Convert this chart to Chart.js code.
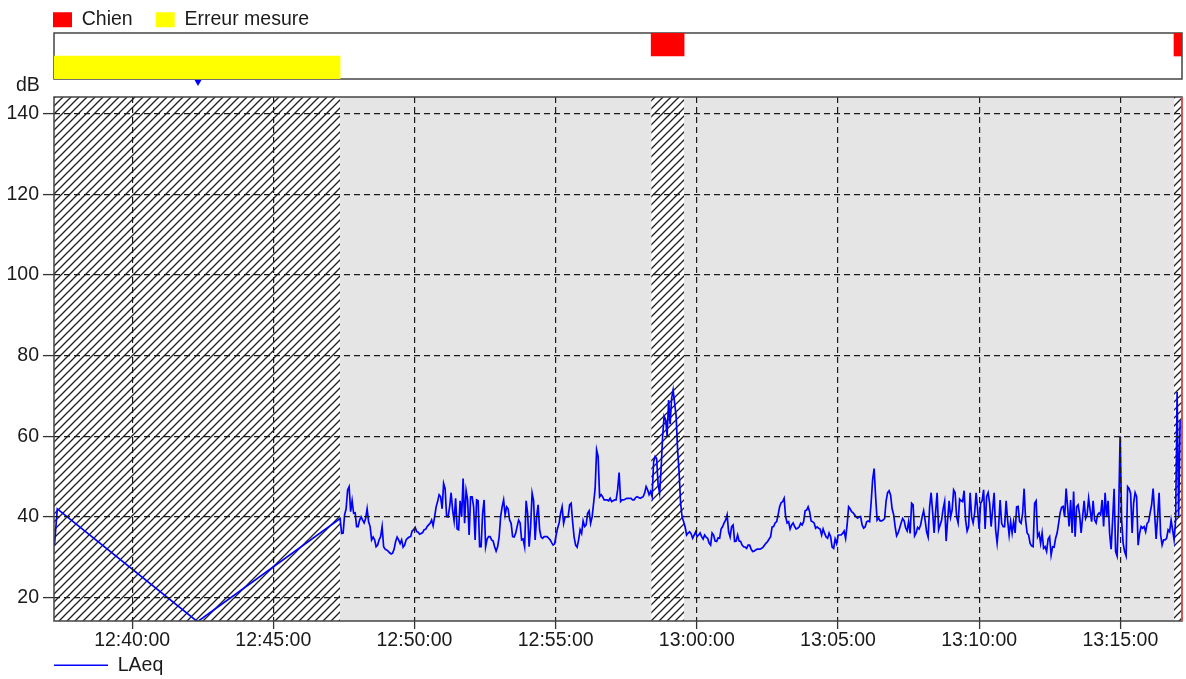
<!DOCTYPE html>
<html>
<head>
<meta charset="utf-8">
<title>LAeq</title>
<script src="https://cdn.jsdelivr.net/npm/chart.js@4.4.1/dist/chart.umd.min.js"></script>
<style>
    html, body { margin: 0; padding: 0; background: #fff; overflow: hidden; }
    #wrap { position: relative; width: 1186px; height: 679px; }
    #mainChart { position: absolute; left: 0; top: 0; }
    #stripChart { position: absolute; left: 0; top: -13px; }
</style>
</head>
<body>
<div id="wrap">
    <canvas id="mainChart" width="1186" height="679"></canvas>
    <canvas id="stripChart" width="1186" height="95"></canvas>
</div>
<script>
    // --- données ---
    const xMin = "12:37:14";
    const xMax = "13:17:11";
    const xTickLabels = ["12:40:00", "12:45:00", "12:50:00", "12:55:00", "13:00:00", "13:05:00", "13:10:00", "13:15:00"];
    const yTicks = [20, 40, 60, 80, 100, 120, 140];
    const yMin = 14.17;
    const yMax = 144.17;

    const eventNames = ["Chien", "Erreur mesure"];
    const chienStarts = ["12:58:23", "13:16:54"];
    const chienEnds = ["12:59:33", "13:17:11"];
    const erreurStarts = ["12:37:14"];
    const erreurEnds = ["12:47:22"];

    // points isolés avant la mesure continue
    const laeqGapTimes = ["12:37:15", "12:37:21", "12:42:19"];
    const laeqGapValues = [33, 42, 14];

    // mesure continue (un point toutes les ~3,2 s)
    const laeqStart = "12:47:22";
    const laeqStepSec = 3.1875;
    const laeqValues = [
        // 12:47 -> 12:57
        39.6, 35.9, 36, 40.5, 42, 46.7, 47.5, 41.3, 44, 40.9, 41, 37.6, 37.6, 39.2, 40, 39.2, 38.5, 39.6, 42, 38.8,
        37.6, 34.3, 35, 34.3, 32.6, 33, 34.3, 35.1, 37.6, 32.6, 32, 31.8, 31.5, 31.1, 30.8, 31, 32, 33.9, 35, 34.3,
        33.4, 34.3, 32.5, 33, 34.3, 34.7, 35, 35.1, 36.5, 36.8, 37.4, 36.4, 36.2, 35.7, 35.9, 36.1, 36.8, 36.9, 37.6, 38,
        38.4, 39.2, 37.8, 40, 42.5, 43.8, 45.5, 45, 42, 48.3, 47, 40.1, 40, 42.5, 46, 41.7, 39, 44.6, 37, 36.8,
        44, 40, 49.5, 38.4, 46.5, 44.2, 35.5, 45, 45, 42.5, 34.3, 44.2, 44, 32.6, 32.6, 40.9, 44.2, 32.6, 34.5, 35.1,
        35.1, 34.3, 34, 32.6, 31.5, 32.6, 35, 40, 42.5, 44.2, 40.5, 42.5, 42, 39.2, 38.4, 35.1, 35, 35.9, 37.6, 39.2,
        38.5, 34.3, 34.5, 32.6, 44, 40.9, 32.6, 37.6, 45.9, 44, 34.3, 40, 43, 36.8, 35, 34.7, 35.1, 35.1, 35.1, 34.7,
        34.3, 33.6, 33, 33.3, 35.5, 37.2, 38.5, 40.9, 42.5, 38.4, 40, 40, 40, 43, 43.4, 38.8, 35, 33, 32.5, 34.3,
        36.8, 35.9, 39, 37.6, 38, 40.9, 41.5, 38.4, 40, 43.4, 47, 56.6, 55, 45, 45.5, 45, 44.2, 44.2, 44.2, 44,
        // 12:57 -> 13:07
        44.6, 43.8, 44, 44.2, 44.2, 46.7, 51, 43.8, 44.2, 44.2, 44.4, 44.6, 44.6, 44.6, 44.6, 44.2, 44.2, 44.8, 45, 44.8,
        44.6, 44.8, 45, 45.9, 47.5, 46.7, 45.5, 46.3, 45, 53.7, 55, 54.5, 48, 45.9, 52, 59.9, 65, 64.1, 60, 69,
        63, 69.4, 71.5, 68.2, 65, 56.6, 51, 43.4, 40, 38.8, 37.5, 35.5, 36, 36.3, 35.8, 34.7, 35.5, 36.3, 35.1, 35.5,
        36, 35.1, 34.5, 35.5, 35, 34.7, 33.5, 33, 36, 35.5, 34, 33.9, 34.8, 34.7, 37, 37.6, 38.5, 39.2, 40.5, 36.3,
        35, 37.6, 38, 33.9, 34, 35.5, 34, 33.9, 33, 32.6, 32.5, 32.2, 33, 33, 32, 31.4, 31.5, 31.8, 32, 32,
        32, 32.2, 32.5, 33, 33.5, 33.9, 34.5, 35.1, 37.5, 37.6, 38.5, 38.8, 40.5, 42.5, 43.5, 43.8, 44.6, 40.1, 38.5, 38.8,
        37, 38, 38.5, 37.6, 37, 37.2, 37.5, 38.4, 38, 38.8, 41.5, 41.7, 42.5, 41.3, 39, 38.8, 38.5, 37.2, 37.5, 37.2,
        37, 35.5, 37, 35.9, 35, 34.7, 36, 35.1, 32.5, 32.2, 34.5, 33.4, 35.5, 35.5, 35.5, 35.9, 36.5, 34.7, 38, 42.5,
        42, 41.3, 41, 40.5, 40, 39.7, 40, 40.1, 38, 37.2, 37.5, 38.8, 39, 38.8, 43.5, 49.2, 52, 45, 39.2, 39.7,
        // 13:07 -> 13:17
        39, 39, 39.2, 39.6, 44, 46, 46.5, 45.4, 42, 40.6, 37.6, 35.3, 36, 37.2, 38.5, 39.6, 39, 37.3, 36.5, 38.8,
        35.9, 43.4, 43, 35.3, 36, 37.4, 37, 38, 40, 41.5, 39.2, 36.3, 35, 42.5, 46, 41.3, 36, 41.3, 46, 36.8,
        38, 39.2, 42, 43.8, 34, 39.2, 44, 40, 41.7, 46.7, 46, 40, 38.5, 44.4, 44, 43.8, 46.5, 39.2, 36.5, 37.6,
        46, 40, 38.5, 40.9, 46, 41.7, 37, 43.4, 44, 46.7, 37, 45, 46, 43.4, 37.6, 41.7, 46, 36.8, 33.5, 37.6,
        44.2, 38.4, 37.6, 37.6, 44, 39.2, 35.5, 38.8, 36, 38.8, 36, 42.5, 42.6, 38.8, 38.4, 40.9, 47, 39.2, 36, 35.5,
        33.4, 32.8, 32.6, 43.4, 44, 35.1, 35.9, 33.4, 36, 32.2, 32.6, 31.4, 34.5, 35.1, 30.5, 32.6, 32.5, 34.7, 36, 38.4,
        41, 42.4, 42.6, 40, 47, 42.5, 37.6, 44.2, 36, 46.3, 35.1, 42.5, 43, 40.5, 36, 40, 44, 39.6, 40.5, 44.6,
        41.7, 38.8, 44, 39.2, 38.5, 40.5, 41, 40.5, 44.2, 37.6, 46, 40, 44, 35.9, 32, 39.2, 47, 31.4, 30.3, 40.9,
        60, 39.2, 33.5, 31.4, 30.3, 47.5, 47, 45.8, 36, 43.4, 46, 45, 33, 35.9, 37.6, 37.2, 37.6, 36.3, 38.4, 38.8,
        41, 43, 47, 40.9, 34.5, 40, 46, 35.5, 33, 34.3, 34.3, 34.7, 36.8, 36.3, 39.2, 36.8, 34.3, 39.2, 71, 40,
        64
    ];

    // repère au-dessus du graphe
    const markerTimes = ["12:42:20"];
    const markerValues = [147.9];

    // --- helpers ---
    function toSec(hms) {
        const [h, m, s] = hms.split(":").map(Number);
        return h * 3600 + m * 60 + s;
    }

    function makeHatch() {
        const c = document.createElement("canvas");
        c.width = 8; c.height = 8;
        const g = c.getContext("2d");
        g.fillStyle = "#ffffff";
        g.fillRect(0, 0, 8, 8);
        g.strokeStyle = "#1e1e1e";
        g.lineWidth = 1.3;
        g.beginPath();
        g.moveTo(-2, 10); g.lineTo(10, -2);
        g.moveTo(-2, 2); g.lineTo(2, -2);
        g.moveTo(6, 10); g.lineTo(10, 6);
        g.stroke();
        return g.createPattern(c, "repeat");
    }

    const plotBg = {
        id: "plotBg",
        beforeDraw(chart, args, opts) {
            const { ctx, chartArea: a } = chart;
            ctx.save();
            ctx.fillStyle = opts.color;
            ctx.fillRect(a.left, a.top, a.width, a.height);
            ctx.restore();
        }
    };

    function strokeFrame(chart, opts) {
        const { ctx, chartArea: a } = chart;
        ctx.save();
        ctx.lineWidth = opts.width;
        ctx.strokeStyle = opts.color;
        ctx.strokeRect(a.left, a.top, a.width, a.height);
        if (opts.rightColor) {
            ctx.strokeStyle = opts.rightColor;
            ctx.beginPath();
            ctx.moveTo(a.right, a.top);
            ctx.lineTo(a.right, a.bottom);
            ctx.stroke();
        }
        ctx.restore();
    }
    const frameAfter = { id: "frameAfter", afterDraw(chart, args, opts) { strokeFrame(chart, opts); } };
    const frameBefore = { id: "frameBefore", beforeDatasetsDraw(chart, args, opts) { strokeFrame(chart, opts); } };

    Chart.defaults.font.family = "'Liberation Sans', Arial, sans-serif";
    Chart.defaults.font.size = 19.5;
    Chart.defaults.color = "#1a1a1a";

    // --- série LAeq ---
    const laeqPoints = laeqGapTimes.map((t, i) => ({ x: toSec(t), y: laeqGapValues[i] }))
        .concat(laeqValues.map((v, i) => ({ x: toSec(laeqStart) + i * laeqStepSec, y: v })));
    const markerPoints = markerTimes.map((t, i) => ({ x: toSec(t), y: markerValues[i] }));

    const hatch = makeHatch();
    const ranges = chienStarts.map((s, i) => [s, chienEnds[i]])
        .concat(erreurStarts.map((s, i) => [s, erreurEnds[i]]));
    const hatchSets = ranges.map(([s, e]) => ({
        label: "zone",
        data: [{ x: toSec(s), y: yMax }, { x: toSec(e), y: yMax }],
        borderColor: "rgba(0,0,0,0)",
        borderWidth: 0,
        backgroundColor: hatch,
        pointRadius: 0,
        fill: "start",
        order: 10,
    }));

    const gridOpts = { z: 1, color: "#1a1a1a", lineWidth: 1.2, tickColor: "#333", tickWidth: 1.3 };

    new Chart(document.getElementById("mainChart"), {
        type: "line",
        data: {
            datasets: [
                {
                    label: "LAeq", data: laeqPoints,
                    borderColor: "#0000ff", backgroundColor: "#0000ff",
                    borderWidth: 1.7, pointRadius: 0, tension: 0, fill: false, order: 0,
                },
                {
                    label: "repere", data: markerPoints, showLine: false,
                    pointStyle: "triangle", pointRotation: 180, pointRadius: 4,
                    pointBackgroundColor: "#0000ff", pointBorderColor: "rgba(0,0,0,0)",
                    pointBorderWidth: 12, clip: false, order: 0,
                },
                ...hatchSets,
            ],
        },
        options: {
            responsive: false, animation: false, parsing: false, events: [],
            layout: { autoPadding: false, padding: { left: 16, right: 4, top: 73.6, bottom: 0 } },
            plugins: {
                legend: {
                    position: "bottom", align: "start", fullSize: false, maxHeight: 23.5,
                    labels: { boxWidth: 54, boxHeight: 0, padding: 0, filter: item => item.datasetIndex === 0 },
                },
                title: { display: true, text: "dB", align: "start", padding: 0, font: { weight: "normal" } },
                tooltip: { enabled: false },
                plotBg: { color: "#e5e5e5" },
                frameAfter: { color: "#444", width: 1.5, rightColor: "#ff4a4a" },
            },
            scales: {
                x: {
                    type: "linear", min: toSec(xMin), max: toSec(xMax),
                    afterBuildTicks: s => { s.ticks = xTickLabels.map(t => ({ value: toSec(t) })); },
                    afterFit: s => { s.height = 34.5; },
                    ticks: { callback: (v, i) => xTickLabels[i], padding: 0, maxRotation: 0, autoSkip: false },
                    grid: { ...gridOpts, tickLength: 8 },
                    border: { display: false, dash: [6, 4] },
                },
                y: {
                    type: "linear", min: yMin, max: yMax,
                    afterBuildTicks: s => { s.ticks = yTicks.map(v => ({ value: v })); },
                    afterFit: s => { s.width = 38; },
                    // mirror + far : étiquettes alignées à droite sans découpage par la zone de l'axe
                    ticks: { callback: v => String(v), mirror: true, crossAlign: "far", padding: -47.5 },
                    grid: { ...gridOpts, tickLength: 11 },
                    border: { display: false, dash: [6, 4] },
                },
            },
        },
        plugins: [plotBg, frameAfter],
    });

    // --- bandeau des évènements ---
    new Chart(document.getElementById("stripChart"), {
        type: "bar",
        data: {
            labels: eventNames,
            datasets: [
                {
                    label: eventNames[0],
                    data: chienStarts.map((s, i) => ({ x: [toSec(s), toSec(chienEnds[i])], y: eventNames[0] })),
                    backgroundColor: "#ff0000", borderWidth: 0,
                },
                {
                    label: eventNames[1],
                    data: erreurStarts.map((s, i) => ({ x: [toSec(s), toSec(erreurEnds[i])], y: eventNames[1] })),
                    backgroundColor: "#ffff00", borderWidth: 0,
                },
            ],
        },
        options: {
            indexAxis: "y", responsive: false, animation: false, events: [],
            datasets: { bar: { grouped: false, categoryPercentage: 1, barPercentage: 1 } },
            layout: { autoPadding: false, padding: { left: 30, right: 4, top: 0, bottom: 3 } },
            plugins: {
                legend: {
                    position: "top", align: "start", maxHeight: 46,
                    labels: { boxWidth: 19, boxHeight: 15, padding: 23 },
                },
                tooltip: { enabled: false },
                frameBefore: { color: "#444", width: 1.5 },
            },
            scales: {
                x: { type: "linear", display: false, min: toSec(xMin), max: toSec(xMax) },
                y: {
                    type: "category", display: true,
                    grid: { display: false }, border: { display: false }, ticks: { display: false },
                    afterFit: s => { s.width = 24; },
                },
            },
        },
        plugins: [frameBefore],
    });
</script>
</body>
</html>
